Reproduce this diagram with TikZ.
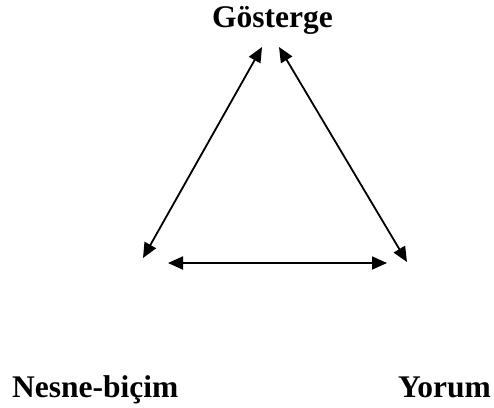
\documentclass[tikz,border=0pt]{standalone}
\usepackage{fontspec}
\setmainfont{Liberation Serif}
\usetikzlibrary{arrows.meta}
\begin{document}
\begin{tikzpicture}[x=1pt,y=-1pt,
  lbl/.style={font=\bfseries\fontsize{31.5}{36}\selectfont, inner sep=0pt},
  link/.style={line width=1.8pt, {Triangle[length=15pt,width=13pt]}-{Triangle[length=15pt,width=13pt]}}]
\useasboundingbox (0,0) rectangle (494,407);
\node[lbl, anchor=base] (g) at (272.5,27) {Gösterge};
\node[lbl, anchor=base west] (n) at (12,397) {Nesne-biçim};
\node[lbl, anchor=base west] (y) at (398,397) {Yorum};
\coordinate (gl) at (262,47);
\coordinate (gr) at (279,47);
\coordinate (nl) at (143,258);
\coordinate (yr) at (407,262);
\coordinate (bl) at (168,263);
\coordinate (br) at (387,263);
\draw[link] (nl) -- (gl);
\draw[link] (gr) -- (yr);
\draw[link] (bl) -- (br);
\end{tikzpicture}
\end{document}
